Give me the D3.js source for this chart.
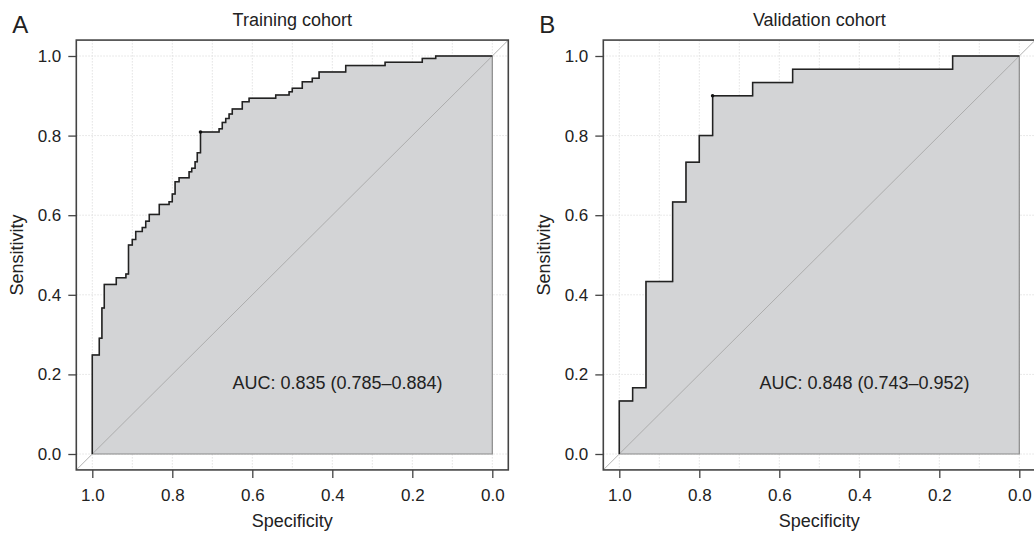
<!DOCTYPE html>
<html>
  <head>
    <meta charset="utf-8">
    <script src="https://cdnjs.cloudflare.com/ajax/libs/d3/7.8.5/d3.min.js"></script>
    <style>
      body { margin: 0; background: #fff; }
      text { font-family: "Liberation Sans", Arial, sans-serif; fill: #222; }
    </style>
  </head>
  <body>
    <div id="vis"></div>
    <script type="text/javascript">

        // ROC step corners (specificity, sensitivity)
        const trainSpec = [1, 1, 0.9825, 0.976, 0.97, 0.94, 0.916, 0.9095, 0.9, 0.8915,
                           0.875, 0.8665, 0.8575, 0.8325, 0.808, 0.8, 0.793, 0.783, 0.758, 0.7515,
                           0.743, 0.7375, 0.7295, 0.683, 0.675, 0.6665, 0.658, 0.65, 0.625, 0.608,
                           0.5415, 0.508, 0.5, 0.475, 0.45, 0.433, 0.3665, 0.268, 0.175, 0.1415, 0];
        const trainSens = [0, 0.249, 0.291, 0.367, 0.426, 0.443, 0.452, 0.525, 0.539, 0.559,
                           0.569, 0.585, 0.602, 0.627, 0.634, 0.653, 0.684, 0.694, 0.709, 0.718,
                           0.734, 0.757, 0.809, 0.817, 0.833, 0.843, 0.854, 0.867, 0.885, 0.894,
                           0.902, 0.91, 0.919, 0.935, 0.944, 0.96, 0.976, 0.984, 0.994, 1, 1];
        const trainCut = [0.7295, 0.809];

        const valSpec = [1, 1, 0.9667, 0.9333, 0.8667, 0.8333, 0.8, 0.7667, 0.6667, 0.5667, 0.1667, 0];
        const valSens = [0, 0.1333, 0.1667, 0.4333, 0.6333, 0.7333, 0.8, 0.9, 0.9333, 0.9667, 1, 1];
        const valCut = [0.7667, 0.9];

        const panelLetters = ["A", "B"];
        const panelTitles = ["Training cohort", "Validation cohort"];
        const aucLabels = ["AUC: 0.835 (0.785\u20130.884)", "AUC: 0.848 (0.743\u20130.952)"];
        const tickValues = [0, 0.2, 0.4, 0.6, 0.8, 1.0];

        const W = 1034, H = 533;
        const svg = d3.select("#vis").append("svg")
            .attr("width", W).attr("height", H);

        const y = d3.scaleLinear().domain([0, 1]).range([454, 56]);

        function drawPanel(i, spec, sens, cut, x0) {
            const x = d3.scaleLinear().domain([1, 0]).range([x0, x0 + 400]);
            const fx0 = x(1.04), fx1 = x(-0.04), fy0 = y(1.04), fy1 = y(-0.04);
            const g = svg.append("g");
            const pts = spec.map((s, k) => [s, sens[k]]);

            // grid
            g.selectAll("line.vg").data(x.ticks(10)).join("line")
                .attr("x1", d => x(d)).attr("x2", d => x(d))
                .attr("y1", fy0).attr("y2", fy1)
                .attr("stroke", "#e2e2e2").attr("stroke-dasharray", "1.5,1.5");
            g.selectAll("line.hg").data(tickValues).join("line")
                .attr("x1", fx0).attr("x2", fx1)
                .attr("y1", d => y(d)).attr("y2", d => y(d))
                .attr("stroke", "#e2e2e2").attr("stroke-dasharray", "1.5,1.5");

            // area under curve
            const stepLine = d3.line().x(d => x(d[0])).y(d => y(d[1])).curve(d3.curveStepAfter);
            g.append("path")
                .attr("d", stepLine(pts) + "L" + x(0) + "," + y(0) + "L" + x(1) + "," + y(0) + "Z")
                .attr("fill", "#d3d4d6").attr("stroke", "#8a8a8a").attr("stroke-width", 1.2);

            // chance line
            g.append("line")
                .attr("x1", fx0).attr("y1", fy1).attr("x2", fx1).attr("y2", fy0)
                .attr("stroke", "#a8a8a8").attr("stroke-width", 0.9);

            // roc curve
            g.append("path").attr("d", stepLine(pts))
                .attr("fill", "none").attr("stroke", "#222").attr("stroke-width", 1.5);
            g.append("circle").attr("cx", x(cut[0])).attr("cy", y(cut[1]))
                .attr("r", 1.8).attr("fill", "#111");

            // frame
            g.append("rect").attr("x", fx0).attr("y", fy0)
                .attr("width", fx1 - fx0).attr("height", fy1 - fy0)
                .attr("fill", "none").attr("stroke", "#444").attr("stroke-width", 1.6);

            // axes
            const ax = g.append("g").attr("transform", `translate(0,${fy1})`)
                .call(d3.axisBottom(x).tickValues(tickValues).tickFormat(d3.format(".1f"))
                    .tickSize(8).tickPadding(11));
            const ay = g.append("g").attr("transform", `translate(${fx0},0)`)
                .call(d3.axisLeft(y).tickValues(tickValues).tickFormat(d3.format(".1f"))
                    .tickSize(8).tickPadding(7));
            [ax, ay].forEach(a => {
                a.select(".domain").remove();
                a.selectAll("line").attr("stroke", "#444").attr("stroke-width", 1.3);
                a.selectAll("text").attr("font-size", 17).attr("fill", "#222")
                    .attr("font-family", "'Liberation Sans', Arial, sans-serif");
            });

            const cx = (fx0 + fx1) / 2;
            g.append("text").attr("x", cx).attr("y", 527)
                .attr("text-anchor", "middle").attr("font-size", 18).text("Specificity");
            g.append("text")
                .attr("transform", `translate(${fx0 - 53},${(fy0 + fy1) / 2}) rotate(-90)`)
                .attr("text-anchor", "middle").attr("font-size", 18).text("Sensitivity");
            g.append("text").attr("x", cx).attr("y", 26)
                .attr("text-anchor", "middle").attr("font-size", 18).text(panelTitles[i]);
            g.append("text").attr("x", fx0 - 64).attr("y", 33)
                .attr("font-size", 24).attr("font-family", "'DejaVu Sans', sans-serif")
                .text(panelLetters[i]);
            g.append("text").attr("x", x(0.387)).attr("y", y(0.178)).attr("dy", "0.35em")
                .attr("text-anchor", "middle").attr("font-size", 18).text(aucLabels[i]);
        }

        drawPanel(0, trainSpec, trainSens, trainCut, 92.3);
        drawPanel(1, valSpec, valSens, valCut, 619.3);

    </script>
  </body>
</html>
